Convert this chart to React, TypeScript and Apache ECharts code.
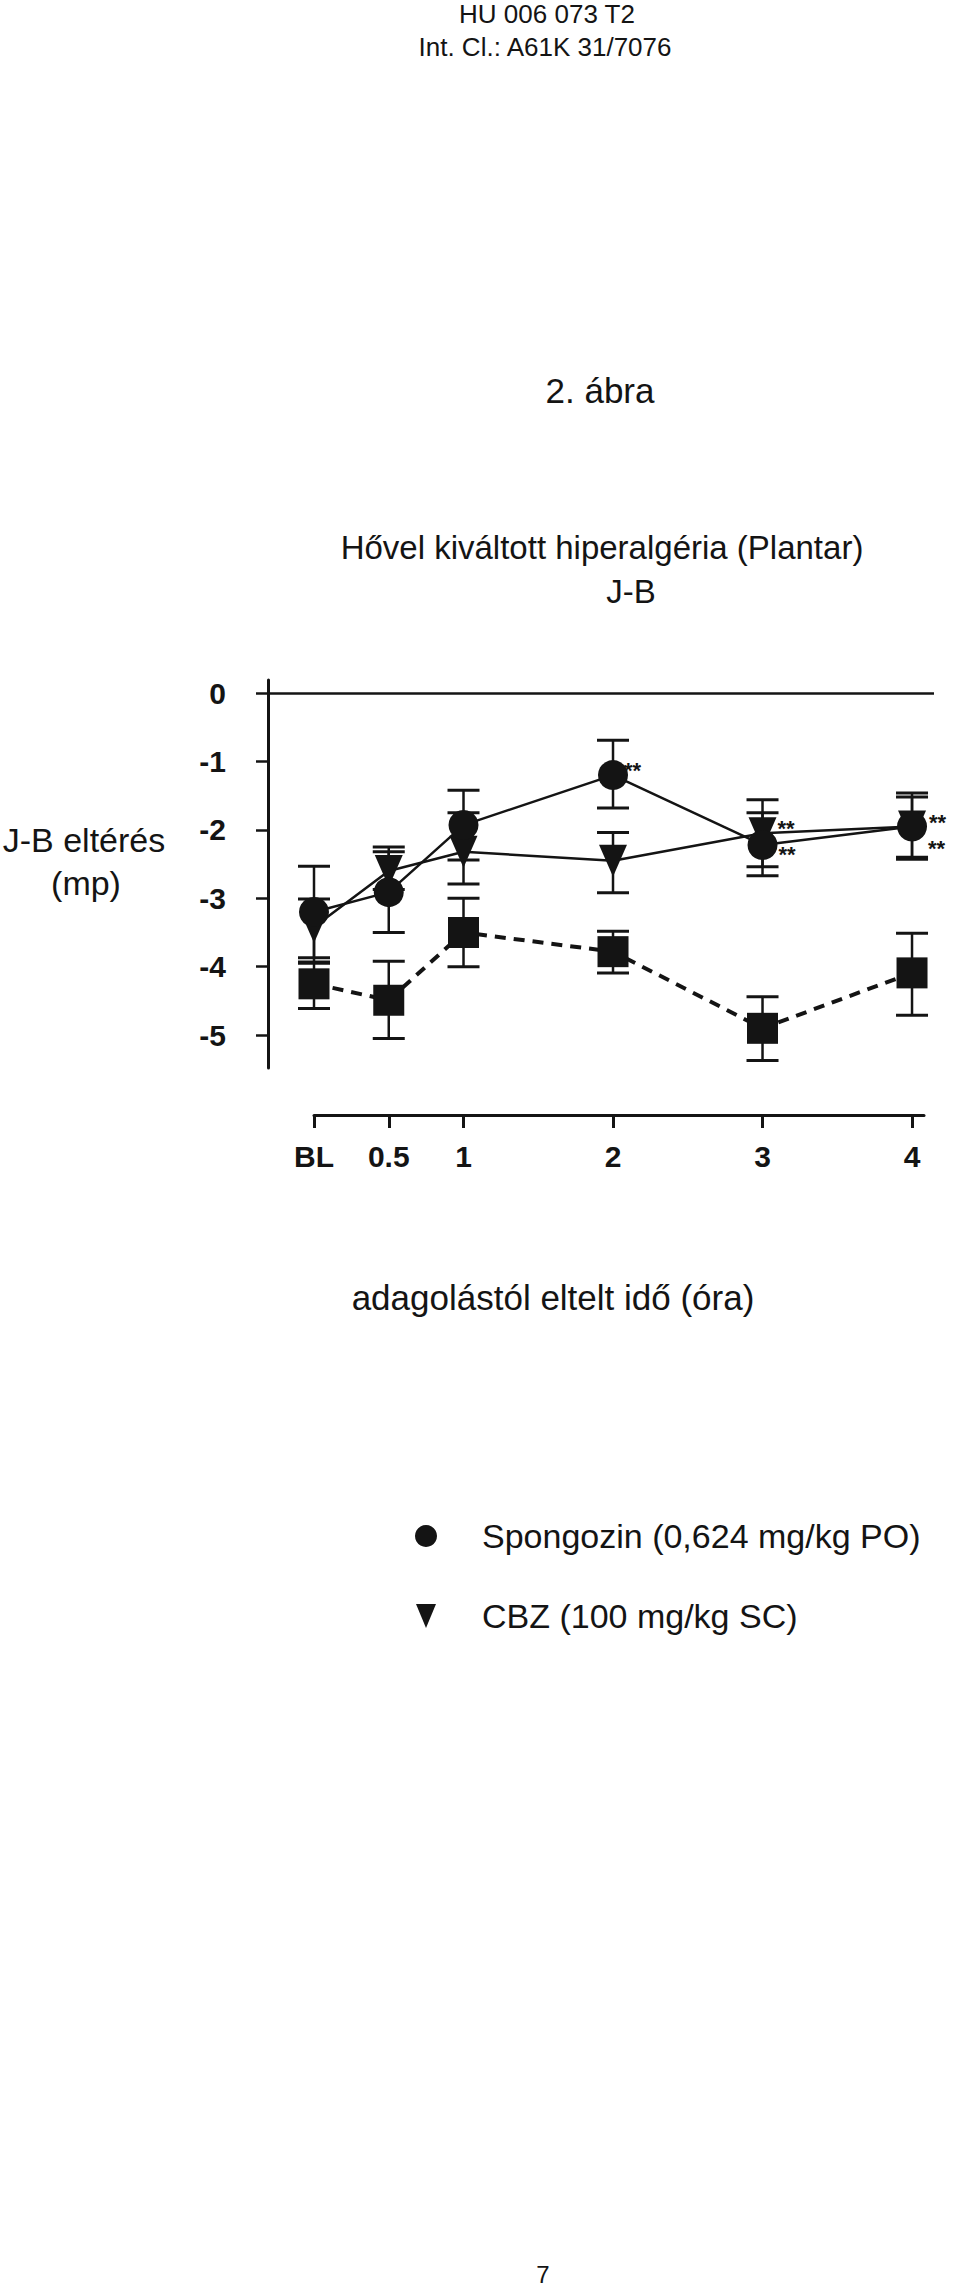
import React, { useEffect, useRef } from 'react';
import * as echarts from 'echarts';

// ---- data ----
const categories = ['BL', '0.5', '1', '2', '3', '4'];
const hours = [0, 0.5, 1, 2, 3, 4];
const yTicks = [0, -1, -2, -3, -4, -5];

const seriesNames = ['Spongozin (0,624 mg/kg PO)', 'CBZ (100 mg/kg SC)', 'Kontroll'];

const spongozinMean = [-3.2, -2.91, -1.93, -1.2, -2.22, -1.95];
const spongozinLow = [-3.87, -3.5, -2.44, -1.68, -2.67, -2.43];
const spongozinHigh = [-2.53, -2.32, -1.42, -0.69, -1.56, -1.46];
const spongozinSig = ['', '', '', '**', '**', '**'];

const cbzMean = [-3.42, -2.6, -2.32, -2.45, -2.05, -1.95];
const cbzLow = [-3.93, -2.87, -2.79, -2.92, -2.54, -2.4];
const cbzHigh = [-3.01, -2.25, -1.75, -2.04, -1.75, -1.52];
const cbzSig = ['', '', '', '', '**', '**'];

const controlMean = [-4.25, -4.49, -3.5, -3.78, -4.9, -4.09];
const controlLow = [-4.61, -5.05, -4.0, -4.09, -5.37, -4.71];
const controlHigh = [-3.95, -3.92, -3.0, -3.48, -4.44, -3.51];

// ---- styling ----
const FONT = '"Liberation Sans", Arial, Helvetica, sans-serif';
const INK = '#141414';
const sigOffsets: Record<string, [number, number]> = {
  's-3': [-4, -5],
  's-4': [1, 10],
  's-5': [2, -4],
  'c-4': [1, -5],
  'c-5': [2, 22],
};

function errorSeries(low: number[], high: number[]) {
  return {
    type: 'custom',
    xAxisIndex: 0,
    yAxisIndex: 0,
    z: 2,
    silent: true,
    clip: false,
    data: hours.map((h, i) => [h, low[i], high[i]]),
    renderItem: (params: any, api: any) => {
      const x = api.value(0);
      const pLo = api.coord([x, api.value(1)]);
      const pHi = api.coord([x, api.value(2)]);
      const half = 16;
      return {
        type: 'group',
        children: [
          { type: 'line', shape: { x1: pLo[0], y1: pLo[1], x2: pHi[0], y2: pHi[1] }, style: { stroke: INK, lineWidth: 2.5 } },
          { type: 'line', shape: { x1: pLo[0] - half, y1: pLo[1], x2: pLo[0] + half, y2: pLo[1] }, style: { stroke: INK, lineWidth: 3 } },
          { type: 'line', shape: { x1: pHi[0] - half, y1: pHi[1], x2: pHi[0] + half, y2: pHi[1] }, style: { stroke: INK, lineWidth: 3 } },
        ],
      };
    },
  };
}

function lineData(mean: number[], sig: string[] | null, key: string) {
  return hours.map((h, i) => {
    const item: any = { value: [h, mean[i]] };
    if (sig && sig[i]) {
      const off = sigOffsets[key + '-' + i] || [0, 0];
      item.label = {
        show: true,
        formatter: sig[i],
        position: 'right',
        distance: 0,
        offset: off,
        fontSize: 22,
        fontWeight: 'bold',
        color: INK,
        fontFamily: FONT,
      };
    }
    return item;
  });
}

function text(t: string, x: number, y: number, size: number) {
  return {
    type: 'text',
    x,
    y,
    silent: true,
    style: {
      text: t,
      fontSize: size,
      fontFamily: FONT,
      fill: INK,
      textAlign: 'center',
      textVerticalAlign: 'middle',
    },
  };
}

export default function App() {
  const ref = useRef<HTMLDivElement>(null);
  useEffect(() => {
    if (!ref.current) return;
    const chart = echarts.init(ref.current, undefined, { renderer: 'svg' });
    const option: any = {
      animation: false,
      backgroundColor: '#ffffff',
      textStyle: { fontFamily: FONT, color: INK },
      grid: [
        { left: 268, top: 680, width: 666, height: 388 },
        { left: 314, top: 1114, width: 610, height: 1 },
      ],
      xAxis: [
        { gridIndex: 0, type: 'value', min: -0.3077, max: 4.147, show: false },
        {
          gridIndex: 1,
          type: 'value',
          min: 0,
          max: 4.08,
          position: 'bottom',
          axisLine: { show: true, onZero: false, lineStyle: { color: INK, width: 3 } },
          axisTick: { show: true, customValues: hours, length: 13, lineStyle: { color: INK, width: 3 } },
          axisLabel: {
            customValues: hours,
            formatter: (v: number) => {
              const i = hours.indexOf(v);
              return i >= 0 ? categories[i] : '';
            },
            fontSize: 30,
            fontWeight: 'bold',
            color: INK,
            fontFamily: FONT,
            margin: 26,
          },
          splitLine: { show: false },
        },
      ],
      yAxis: [
        {
          gridIndex: 0,
          type: 'value',
          min: -5.48,
          max: 0.19,
          axisLine: { show: true, onZero: false, lineStyle: { color: INK, width: 3 } },
          axisTick: { show: true, customValues: yTicks, length: 12, lineStyle: { color: INK, width: 2.5 } },
          axisLabel: {
            customValues: yTicks,
            formatter: (v: number) => String(v),
            fontSize: 30,
            fontWeight: 'bold',
            color: INK,
            fontFamily: FONT,
            margin: 42,
          },
          splitLine: { show: false },
        },
        { gridIndex: 1, type: 'value', show: false },
      ],
      legend: {
        orient: 'vertical',
        left: 410,
        top: 1514,
        itemWidth: 22,
        itemHeight: 24,
        itemGap: 46,
        selectedMode: false,
        textStyle: { fontSize: 34, color: INK, fontFamily: FONT, padding: [0, 0, 0, 40] },
        data: [
          { name: seriesNames[0], icon: 'circle' },
          { name: seriesNames[1], icon: 'path://M0,0L10,0L5,12Z' },
        ],
      },
      graphic: [
        text('HU 006 073 T2', 547, 14, 26),
        text('Int. Cl.: A61K 31/7076', 545, 47, 26),
        text('2. ábra', 600, 390, 35),
        text('Hővel kiváltott hiperalgéria (Plantar)', 602, 547, 33),
        text('J-B', 631, 591, 33),
        text('J-B eltérés', 84, 840, 34),
        text('(mp)', 86, 883, 34),
        text('adagolástól eltelt idő (óra)', 553, 1297, 35),
        text('7', 543, 2274, 24),
      ],
      series: [
        errorSeries(controlLow, controlHigh),
        errorSeries(cbzLow, cbzHigh),
        errorSeries(spongozinLow, spongozinHigh),
        {
          name: seriesNames[2],
          type: 'line',
          xAxisIndex: 0,
          yAxisIndex: 0,
          z: 4,
          symbol: 'rect',
          symbolSize: 31,
          itemStyle: { color: INK },
          lineStyle: { color: INK, width: 4, type: [11, 8] },
          emphasis: { disabled: true },
          data: lineData(controlMean, null, 'k'),
        },
        {
          name: seriesNames[1],
          type: 'line',
          xAxisIndex: 0,
          yAxisIndex: 0,
          z: 5,
          symbol: 'triangle',
          symbolRotate: 180,
          symbolSize: [28, 32],
          itemStyle: { color: INK },
          lineStyle: { color: INK, width: 2.5 },
          emphasis: { disabled: true },
          data: lineData(cbzMean, cbzSig, 'c'),
        },
        {
          name: seriesNames[0],
          type: 'line',
          xAxisIndex: 0,
          yAxisIndex: 0,
          z: 6,
          symbol: 'circle',
          symbolSize: 30,
          itemStyle: { color: INK },
          lineStyle: { color: INK, width: 2.5 },
          emphasis: { disabled: true },
          data: lineData(spongozinMean, spongozinSig, 's'),
          markLine: {
            silent: true,
            symbol: ['none', 'none'],
            label: { show: false },
            lineStyle: { color: INK, width: 2.5, type: 'solid' },
            data: [{ yAxis: 0 }],
          },
        },
      ],
    };
    chart.setOption(option);
    return () => chart.dispose();
  }, []);
  return (
    <div
      ref={ref}
      style={{ position: 'absolute', left: 0, top: 0, width: 960, height: 2286, background: '#fff' }}
    />
  );
}
